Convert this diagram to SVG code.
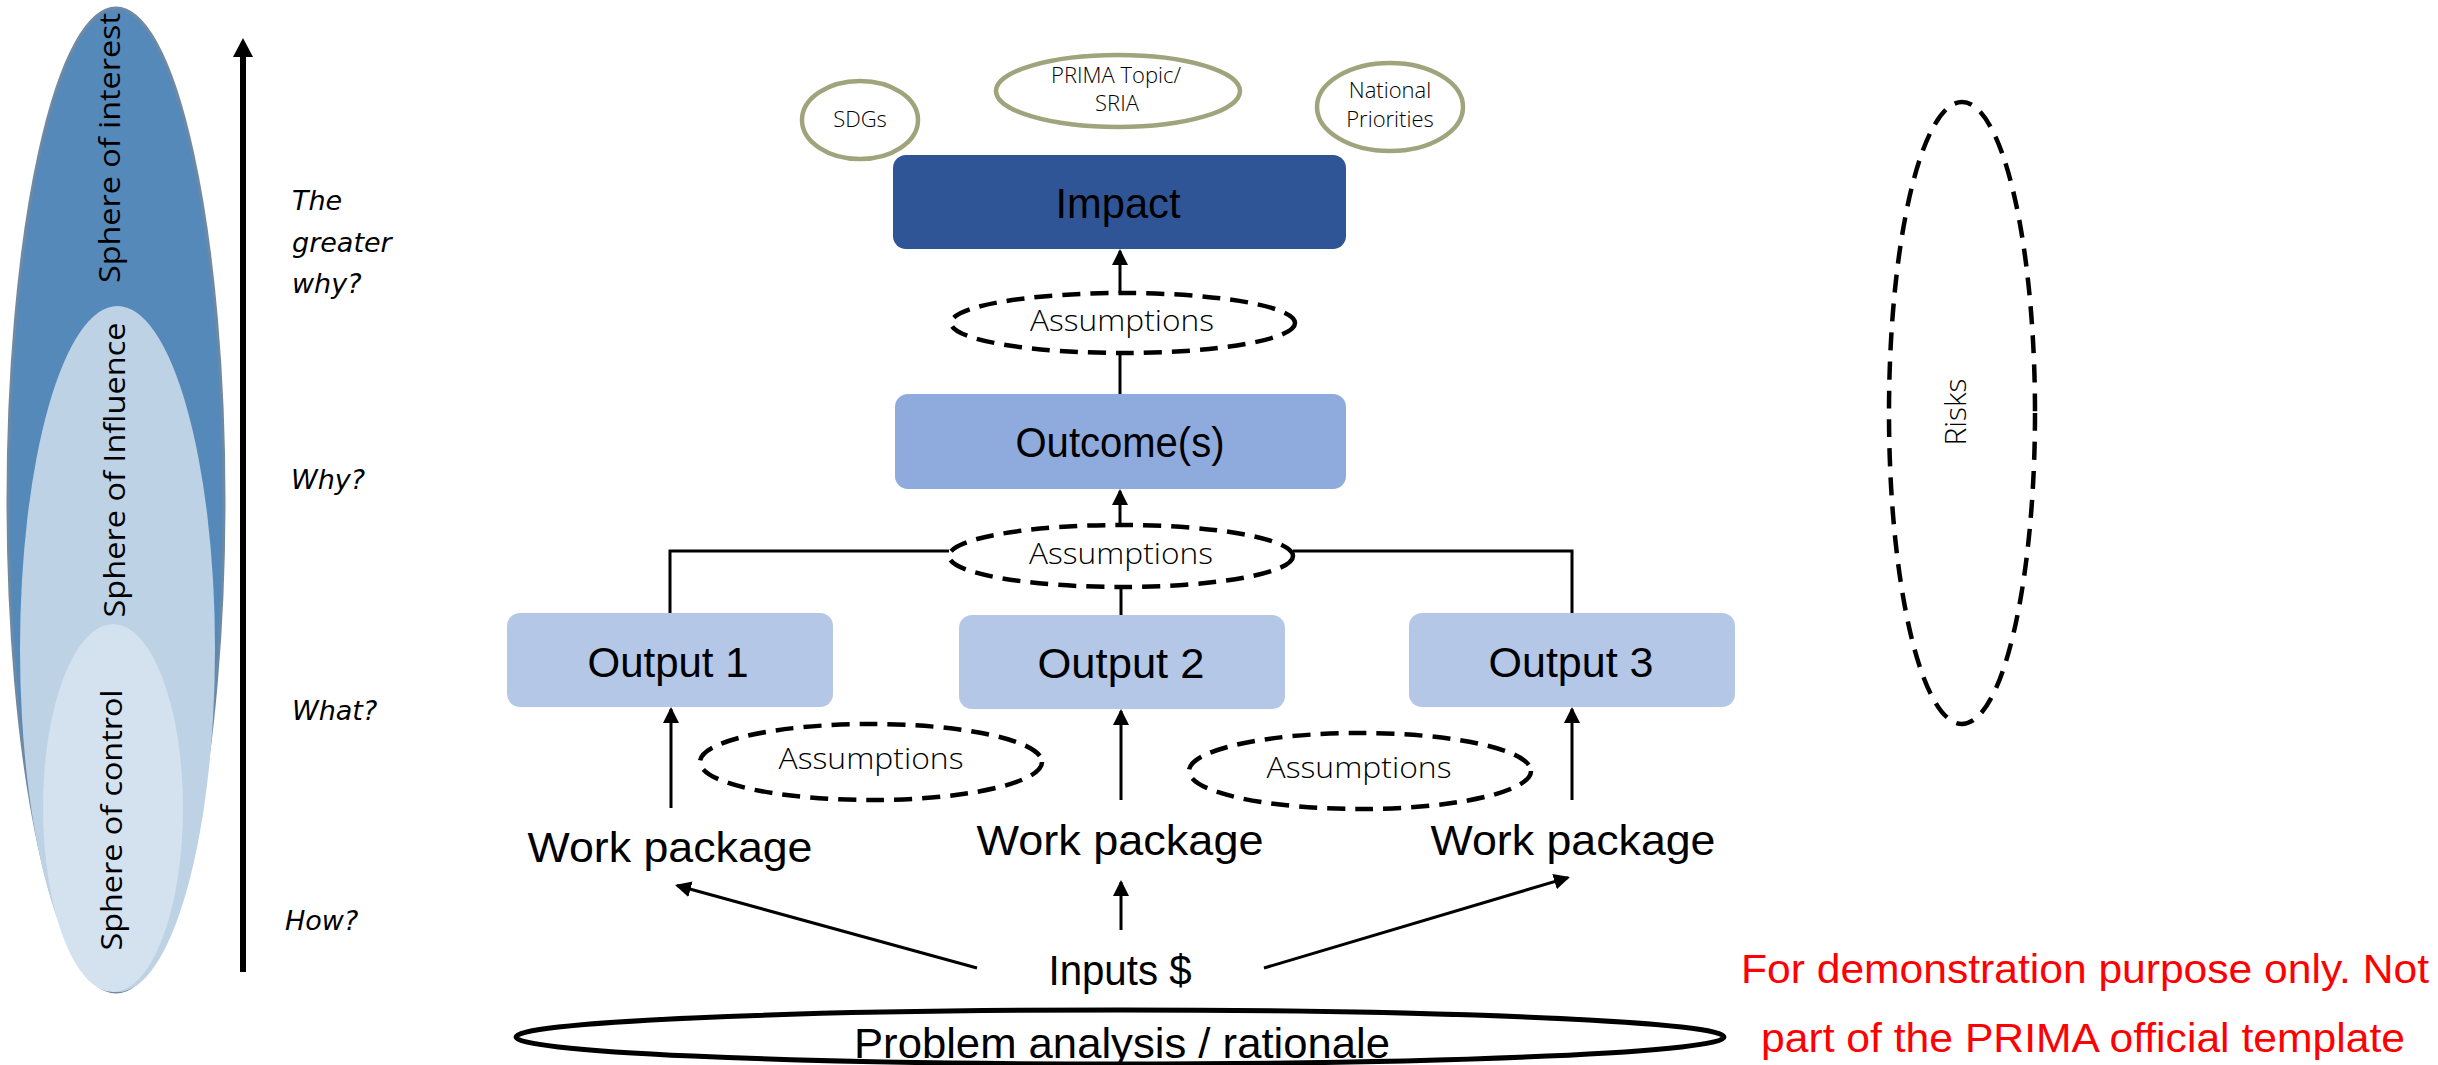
<svg xmlns="http://www.w3.org/2000/svg" width="2438" height="1065" viewBox="0 0 2438 1065">
<style>
.lbl{font-family:"Liberation Sans",Arial,sans-serif;font-size:42px;fill:#000;text-anchor:middle}
.sph{font-family:"Open Sans","Liberation Sans",sans-serif;font-size:29px;fill:#000;text-anchor:middle}
.q{font-family:"DejaVu Sans",sans-serif;font-style:italic;font-size:27px;fill:#000}
.thin{font-family:"Open Sans","Liberation Sans",sans-serif;font-weight:300;fill:#000;text-anchor:middle}
.ass{fill:#fff;stroke:#000;stroke-width:4.5;stroke-dasharray:18 10}
.olive{fill:#fff;stroke:#A0A47C;stroke-width:4.5}
.conn{fill:none;stroke:#000;stroke-width:3}
.red{font-family:"Liberation Sans",Arial,sans-serif;font-size:41px;fill:#FF0000;text-anchor:middle}
</style>
<defs>
<marker id="ah" markerUnits="userSpaceOnUse" markerWidth="16" markerHeight="16" refX="14" refY="8" orient="auto">
<path d="M0,0 L16,8 L0,16 z" fill="#000"/>
</marker>
</defs>
<rect width="2438" height="1065" fill="#fff"/>

<g id="spheres">
<ellipse cx="116" cy="500" rx="108" ry="492" fill="#5589BA" stroke="#6E89A4" stroke-width="3"/>
<ellipse cx="117.5" cy="649" rx="97.5" ry="343" fill="#BED2E5"/>
<ellipse cx="113" cy="808" rx="70" ry="184" fill="#D4E2EF"/>
<text class="sph" transform="translate(120,148) rotate(-90)" textLength="270" lengthAdjust="spacingAndGlyphs">Sphere of interest</text>
<text class="sph" transform="translate(125,470) rotate(-90)" textLength="295" lengthAdjust="spacingAndGlyphs">Sphere of Influence</text>
<text class="sph" transform="translate(122,820) rotate(-90)" textLength="261" lengthAdjust="spacingAndGlyphs">Sphere of control</text>
</g>

<g id="axis">
<path d="M243,972 V56" stroke="#000" stroke-width="6" fill="none"/>
<polygon points="233,57 253,57 243,38" fill="#000"/>
<text class="q" x="292" y="210">The</text>
<text class="q" x="292" y="252">greater</text>
<text class="q" x="292" y="293">why?</text>
<text class="q" x="291" y="489">Why?</text>
<text class="q" x="292" y="720">What?</text>
<text class="q" x="285" y="930">How?</text>
</g>

<g id="connectors">
<path class="conn" d="M1120,293 V251" marker-end="url(#ah)"/>
<path class="conn" d="M1120,353 V394"/>
<path class="conn" d="M1120,525 V491" marker-end="url(#ah)"/>
<path class="conn" d="M1121,587 V615"/>
<path class="conn" d="M949,551 H670 V613"/>
<path class="conn" d="M1293,551 H1572 V613"/>
<path class="conn" d="M671,808 V709" marker-end="url(#ah)"/>
<path class="conn" d="M1121,800 V711" marker-end="url(#ah)"/>
<path class="conn" d="M1572,800 V709" marker-end="url(#ah)"/>
<path class="conn" d="M977,968 L677,885.5" marker-end="url(#ah)"/>
<path class="conn" d="M1121,930 V882" marker-end="url(#ah)"/>
<path class="conn" d="M1264,968 L1568,877.6" marker-end="url(#ah)"/>
</g>

<g id="sdgs">
<ellipse class="olive" cx="860" cy="120" rx="58" ry="39"/>
<text class="thin" x="860" y="127" font-size="22">SDGs</text>
</g>
<g id="prima">
<ellipse class="olive" cx="1118" cy="91" rx="122" ry="36"/>
<text class="thin" x="1116" y="83" font-size="22">PRIMA Topic/</text>
<text class="thin" x="1117" y="111" font-size="22">SRIA</text>
</g>
<g id="national">
<ellipse class="olive" cx="1390" cy="107" rx="73" ry="44"/>
<text class="thin" x="1390" y="98" font-size="22">National</text>
<text class="thin" x="1390" y="127" font-size="22">Priorities</text>
</g>

<g id="impact">
<rect x="893" y="155" width="453" height="94" rx="13" fill="#2F5597"/>
<text class="lbl" x="1118" y="218" textLength="125" lengthAdjust="spacingAndGlyphs">Impact</text>
</g>

<g id="assumptions1">
<ellipse class="ass" cx="1123" cy="323" rx="172" ry="30"/>
<text class="thin" x="1122" y="331" font-size="30" textLength="184" lengthAdjust="spacingAndGlyphs">Assumptions</text>
</g>

<g id="outcome">
<rect x="895" y="394" width="451" height="95" rx="13" fill="#8FAADC"/>
<text class="lbl" x="1120" y="457" textLength="209" lengthAdjust="spacingAndGlyphs">Outcome(s)</text>
</g>

<g id="assumptions2">
<ellipse class="ass" cx="1121" cy="556" rx="172" ry="31"/>
<text class="thin" x="1121" y="564" font-size="30" textLength="184" lengthAdjust="spacingAndGlyphs">Assumptions</text>
</g>

<g id="output1">
<rect x="507" y="613" width="326" height="94" rx="13" fill="#B4C7E7"/>
<text class="lbl" x="668" y="677" textLength="161" lengthAdjust="spacingAndGlyphs">Output 1</text>
</g>
<g id="output2">
<rect x="959" y="615" width="326" height="94" rx="13" fill="#B4C7E7"/>
<text class="lbl" x="1121" y="678" textLength="167" lengthAdjust="spacingAndGlyphs">Output 2</text>
</g>
<g id="output3">
<rect x="1409" y="613" width="326" height="94" rx="13" fill="#B4C7E7"/>
<text class="lbl" x="1571" y="677" textLength="165" lengthAdjust="spacingAndGlyphs">Output 3</text>
</g>

<g id="assumptions3">
<ellipse class="ass" cx="871" cy="762" rx="171" ry="38"/>
<text class="thin" x="871" y="769" font-size="30" textLength="185" lengthAdjust="spacingAndGlyphs">Assumptions</text>
</g>
<g id="assumptions4">
<ellipse class="ass" cx="1360" cy="771" rx="171" ry="38"/>
<text class="thin" x="1359" y="778" font-size="30" textLength="185" lengthAdjust="spacingAndGlyphs">Assumptions</text>
</g>

<g id="wp1">
<text class="lbl" x="670" y="862" textLength="285" lengthAdjust="spacingAndGlyphs">Work package</text>
</g>
<g id="wp2">
<text class="lbl" x="1120" y="855" textLength="287" lengthAdjust="spacingAndGlyphs">Work package</text>
</g>
<g id="wp3">
<text class="lbl" x="1573" y="855" textLength="285" lengthAdjust="spacingAndGlyphs">Work package</text>
</g>

<g id="inputs">
<text class="lbl" x="1120" y="985" textLength="143" lengthAdjust="spacingAndGlyphs">Inputs $</text>
</g>

<g id="problem">
<ellipse cx="1120" cy="1037" rx="604" ry="27" fill="#fff" stroke="#000" stroke-width="5"/>
<text class="lbl" x="1122" y="1058" textLength="536" lengthAdjust="spacingAndGlyphs">Problem analysis / rationale</text>
</g>

<g id="risks">
<ellipse cx="1962" cy="413" rx="73" ry="311" fill="none" stroke="#000" stroke-width="4.5" stroke-dasharray="18 11"/>
<text class="thin" transform="translate(1966,412) rotate(-90)" font-size="30">Risks</text>
</g>

<g id="disclaimer">
<text class="red" x="2085" y="983" textLength="688" lengthAdjust="spacingAndGlyphs">For demonstration purpose only. Not</text>
<text class="red" x="2083" y="1052" textLength="644" lengthAdjust="spacingAndGlyphs">part of the PRIMA official template</text>
</g>
</svg>
